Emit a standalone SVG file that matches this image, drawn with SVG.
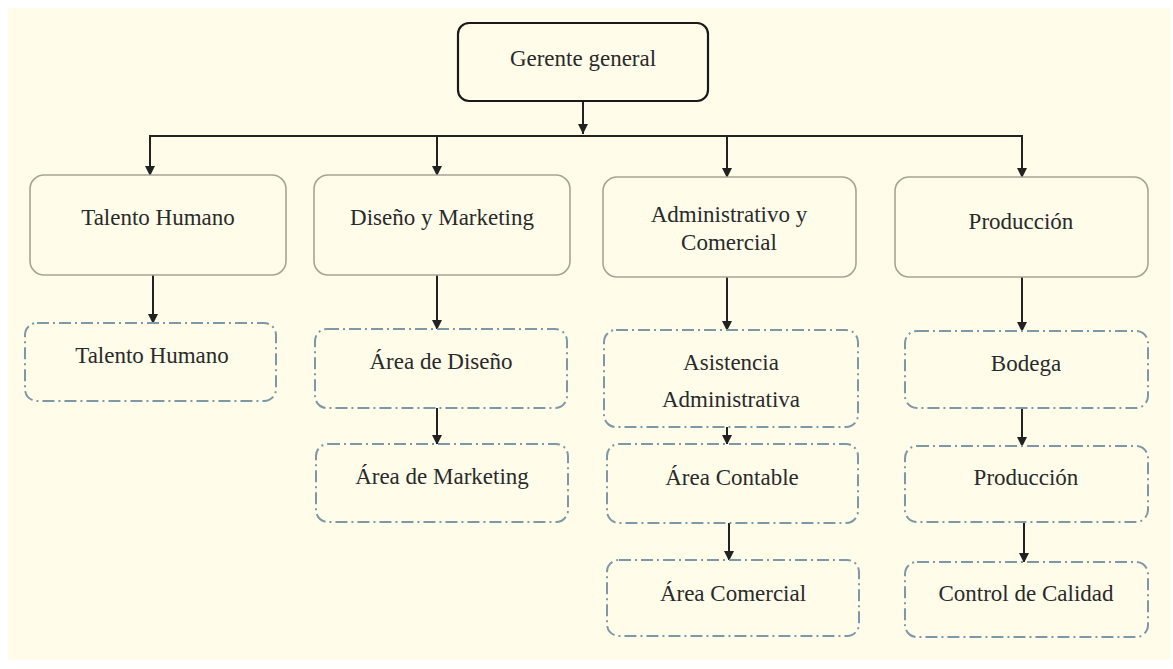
<svg xmlns="http://www.w3.org/2000/svg" width="1173" height="669" viewBox="0 0 1173 669">
<defs>
<marker id="arr" viewBox="0 0 10 10" refX="10" refY="5" markerWidth="10" markerHeight="10" markerUnits="userSpaceOnUse" orient="auto">
<path d="M0,0 L10,5 L0,10 Z" fill="#222"/>
</marker>
<style>
.t{font-family:"Liberation Serif","Times New Roman",serif;font-size:23px;fill:#2a2a2a;text-anchor:middle}
.top{fill:#fffdea;stroke:#1a1a1a;stroke-width:2.2}
.l1{fill:#fffdea;stroke:#a8a396;stroke-width:1.6}
.l2{fill:#fffdea;stroke:#7f98a8;stroke-width:2;stroke-dasharray:12 4 2 4}
.c{stroke:#222;stroke-width:2;fill:none}
</style>
</defs>
<rect x="0" y="0" width="1173" height="669" fill="#ffffff"/>
<rect x="8" y="8" width="1162" height="652" fill="#fffdea"/>
<g id="connectors">
<line class="c" x1="583" y1="101" x2="583" y2="134" marker-end="url(#arr)"/>
<line class="c" x1="149" y1="136" x2="1023" y2="136"/>
<line class="c" x1="150" y1="136" x2="150" y2="176" marker-end="url(#arr)"/>
<line class="c" x1="437" y1="136" x2="437" y2="176" marker-end="url(#arr)"/>
<line class="c" x1="727" y1="136" x2="727" y2="178" marker-end="url(#arr)"/>
<line class="c" x1="1022" y1="136" x2="1022" y2="178" marker-end="url(#arr)"/>
<line class="c" x1="153" y1="275" x2="153" y2="324" marker-end="url(#arr)"/>
<line class="c" x1="437" y1="275" x2="437" y2="330" marker-end="url(#arr)"/>
<line class="c" x1="437" y1="408" x2="437" y2="445" marker-end="url(#arr)"/>
<line class="c" x1="727" y1="277" x2="727" y2="331" marker-end="url(#arr)"/>
<line class="c" x1="727" y1="427" x2="727" y2="445" marker-end="url(#arr)"/>
<line class="c" x1="729" y1="522" x2="729" y2="561" marker-end="url(#arr)"/>
<line class="c" x1="1022" y1="277" x2="1022" y2="332" marker-end="url(#arr)"/>
<line class="c" x1="1022" y1="408" x2="1022" y2="447" marker-end="url(#arr)"/>
<line class="c" x1="1024" y1="522" x2="1024" y2="563" marker-end="url(#arr)"/>
</g>
<g id="gerente"><rect class="top" x="458" y="23" width="250" height="78" rx="11"/><text class="t" x="583" y="66">Gerente general</text></g>
<g id="talento1"><rect class="l1" x="30" y="175" width="256" height="100" rx="14"/><text class="t" x="158" y="225">Talento Humano</text></g>
<g id="diseno1"><rect class="l1" x="314" y="175" width="256" height="100" rx="14"/><text class="t" x="442" y="225">Diseño y Marketing</text></g>
<g id="admin1"><rect class="l1" x="603" y="177" width="253" height="100" rx="14"/><text class="t" x="729" y="222">Administrativo y</text><text class="t" x="729" y="250">Comercial</text></g>
<g id="produccion1"><rect class="l1" x="895" y="177" width="253" height="100" rx="14"/><text class="t" x="1021" y="229">Producción</text></g>
<g id="talento2"><rect class="l2" x="25" y="323" width="251" height="78" rx="12"/><text class="t" x="152" y="363">Talento Humano</text></g>
<g id="areaDiseno"><rect class="l2" x="315" y="329" width="252" height="79" rx="12"/><text class="t" x="441" y="369">Área de Diseño</text></g>
<g id="areaMarketing"><rect class="l2" x="316" y="444" width="252" height="78" rx="12"/><text class="t" x="442" y="484">Área de Marketing</text></g>
<g id="asistencia"><rect class="l2" x="604" y="330" width="254" height="97" rx="12"/><text class="t" x="731" y="370">Asistencia</text><text class="t" x="731" y="407">Administrativa</text></g>
<g id="contable"><rect class="l2" x="607" y="444" width="251" height="79" rx="12"/><text class="t" x="732" y="485">Área Contable</text></g>
<g id="comercial"><rect class="l2" x="607" y="560" width="252" height="76" rx="12"/><text class="t" x="733" y="601">Área Comercial</text></g>
<g id="bodega"><rect class="l2" x="905" y="331" width="243" height="77" rx="12"/><text class="t" x="1026" y="371">Bodega</text></g>
<g id="produccion2"><rect class="l2" x="905" y="446" width="243" height="76" rx="12"/><text class="t" x="1026" y="485">Producción</text></g>
<g id="calidad"><rect class="l2" x="905" y="562" width="243" height="75" rx="12"/><text class="t" x="1026" y="601">Control de Calidad</text></g>
</svg>
